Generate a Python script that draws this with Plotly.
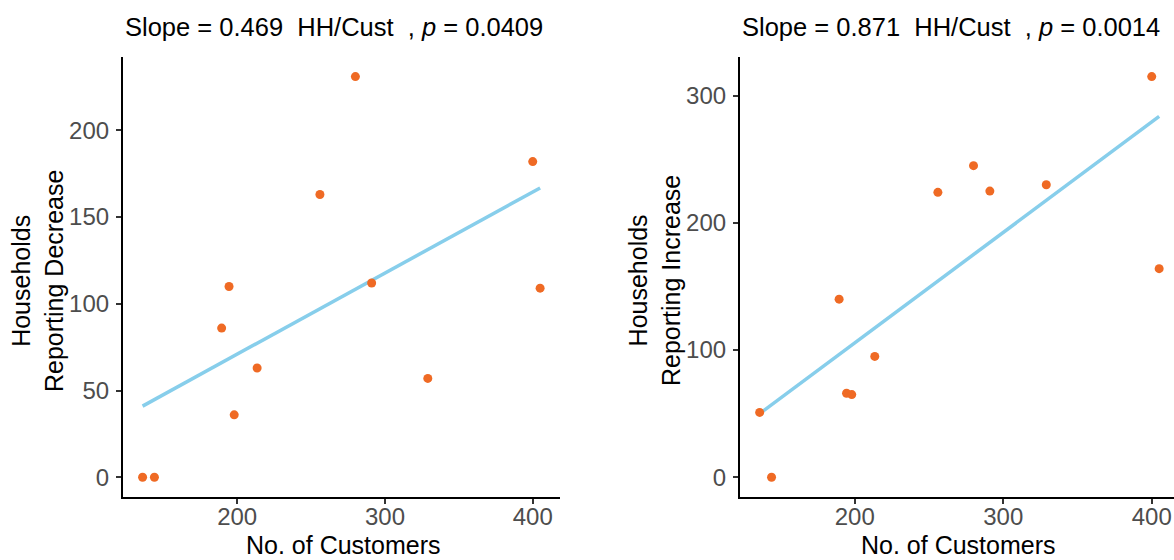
import numpy as np
import plotly.graph_objects as go

# Data
customers = [136, 144, 189.5, 194.5, 198, 213.5, 256, 280, 291, 329, 400, 405]
hh_decrease = [0, 0, 86, 110, 36, 63, 163, 231, 112, 57, 182, 109]
hh_increase = [51, 0, 140, 66, 65, 95, 224, 245, 225, 230, 315, 164]

title_left = "Slope\u00a0=\u00a00.469\u00a0\u00a0HH/Cust\u00a0\u00a0,\u00a0<i>p</i>\u00a0=\u00a00.0409"
title_right = "Slope\u00a0=\u00a00.871\u00a0\u00a0HH/Cust\u00a0\u00a0,\u00a0<i>p</i>\u00a0=\u00a00.0014"
ytitle_left = "Households<br>Reporting Decrease"
ytitle_right = "Households<br>Reporting Increase"
xtitle = "No. of Customers"
x_ticks = [200, 300, 400]
y_ticks_left = [0, 50, 100, 150, 200]
y_ticks_right = [0, 100, 200, 300]

POINT = "#EF6A24"
LINE = "#87CEEB"
FONT = "Liberation Sans, Arial, sans-serif"

fig = go.Figure()

def add_panel(y, xa, ya):
    x = np.array(customers, dtype=float)
    yy = np.array(y, dtype=float)
    m, b = np.polyfit(x, yy, 1)
    xs = np.array([x.min(), x.max()])
    fig.add_trace(go.Scatter(x=xs, y=m * xs + b, mode="lines",
                             line=dict(color=LINE, width=3.5),
                             xaxis=xa, yaxis=ya, showlegend=False, hoverinfo="skip"))
    fig.add_trace(go.Scatter(x=x, y=yy, mode="markers",
                             marker=dict(color=POINT, size=9),
                             xaxis=xa, yaxis=ya, showlegend=False))

add_panel(hh_decrease, "x", "y")
add_panel(hh_increase, "x2", "y2")

ax_common = dict(showline=True, linecolor="black", linewidth=1.5, ticks="outside",
                 ticklen=5, tickwidth=1.5, tickcolor="#333333", showgrid=False,
                 zeroline=False, automargin=False,
                 tickfont=dict(family=FONT, size=24, color="#4D4D4D"))

ydom = [0.112, 0.899]
fig.update_layout(
    width=1174, height=560,
    margin=dict(l=0, r=0, t=0, b=0),
    paper_bgcolor="white", plot_bgcolor="white",
    font=dict(family=FONT),
    xaxis=dict(domain=[0.10452, 0.47700], range=[122.55, 418.45], tickvals=x_ticks,
               anchor="y", ticklabelstandoff=-8, **ax_common),
    yaxis=dict(domain=ydom, range=[-11.55, 242.55], tickvals=y_ticks_left,
               anchor="x", ticklabelstandoff=2, **ax_common),
    xaxis2=dict(domain=[0.63007, 1.0], range=[122.55, 415.0], tickvals=x_ticks,
                anchor="y2", ticklabelstandoff=-8, **ax_common),
    yaxis2=dict(domain=ydom, range=[-15.75, 330.75], tickvals=y_ticks_right,
                anchor="x2", ticklabelstandoff=2, **ax_common),
)

ann_font = dict(family=FONT, size=25.5, color="black")
axt_font = dict(family=FONT, size=25, color="black")
anns = [
    dict(text=title_left, x=122.7 / 1174, y=(560 - 27) / 560, xanchor="left", yanchor="middle", font=ann_font),
    dict(text=title_right, x=739.7 / 1174, y=(560 - 27) / 560, xanchor="left", yanchor="middle", font=ann_font),
    dict(text=xtitle, x=343 / 1174, y=(560 - 545) / 560, xanchor="center", yanchor="middle", font=axt_font),
    dict(text=xtitle, x=958 / 1174, y=(560 - 545) / 560, xanchor="center", yanchor="middle", font=axt_font),
    dict(text=ytitle_left, x=37 / 1174, y=(560 - 281) / 560, xanchor="center", yanchor="middle",
         textangle=-90, font=axt_font),
    dict(text=ytitle_right, x=654 / 1174, y=(560 - 281) / 560, xanchor="center", yanchor="middle",
         textangle=-90, font=axt_font),
]
for a in anns:
    a.update(xref="paper", yref="paper", showarrow=False)
fig.update_layout(annotations=anns)

fig.write_html("out.html", config={"displayModeBar": False},
               post_script="document.body.style.margin='0';document.body.style.overflow='hidden';")
